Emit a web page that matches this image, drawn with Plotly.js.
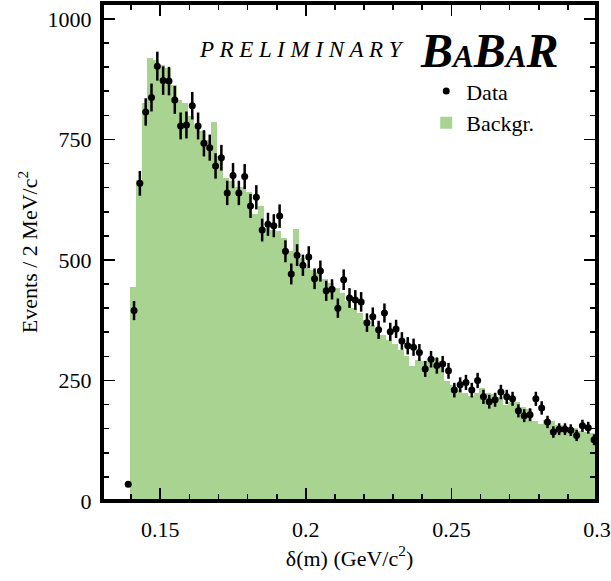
<!DOCTYPE html>
<html>
<head>
<meta charset="utf-8">
<script src="https://cdn.plot.ly/plotly-3.0.1.min.js"></script>
<style>html,body{margin:0;padding:0;background:#fff;}</style>
</head>
<body>
<div id="chart" style="width:611px;height:581px;"></div>
<script>
// Data: events per 2 MeV/c^2 bin, bin centres start at 0.139 GeV/c^2
var dataStart = 0.139;
var binWidth = 0.002;
var dataCounts = [
  35, 395, 659, 807, 837, 902, 872, 871, 832, 778,
  780, 820, 778, 742, 733, 695, 712, 639, 675, 639,
  673, 612, 630, 562, 574, 571, 591, 518, 471, 510,
  489, 506, 461, 477, 436, 439, 400, 459, 421, 417,
  413, 370, 382, 355, 390, 351, 357, 332, 322, 319,
  308, 274, 294, 281, 284, 270, 230, 241, 246, 230,
  250, 216, 206, 210, 226, 216, 212, 187, 177, 179,
  212, 193, 164, 143, 149, 149, 147, 136, 156, 152,
  127
];
// Background histogram, bin centres start at 0.1406 GeV/c^2
var bkgStart = 0.1406;
var bkgCounts = [
  444, 666, 826, 919, 915, 905, 898, 862, 832, 826,
  798, 777, 767, 749, 787, 715, 670, 663, 652, 652,
  640, 595, 611, 567, 563, 561, 545, 518, 564, 504,
  485, 480, 475, 460, 452, 442, 432, 415, 400, 390,
  375, 365, 355, 345, 335, 325, 313, 300, 280, 293,
  290, 297, 297, 290, 248, 240, 230, 225, 217, 225,
  235, 224, 222, 215, 200, 205, 205, 195, 190, 165,
  160, 168, 165, 158, 157, 154, 152, 146, 144, 142,
  140
];
var xRange = [0.13, 0.3];
var yRange = [0, 1033];
var xTickVals = [0.15, 0.2, 0.25, 0.3];
var xTickText = ['0.15', '0.2', '0.25', '0.3'];
var xMinorVals = [0.14, 0.16, 0.17, 0.18, 0.19, 0.21, 0.22, 0.23, 0.24, 0.26, 0.27, 0.28, 0.29];
var yTickVals = [0, 250, 500, 750, 1000];
var yTickText = ['0', '250', '500', '750', '1000'];
var yMinorVals = [50, 100, 150, 200, 300, 350, 400, 450, 550, 600, 650, 700, 800, 850, 900, 950];

var green = '#a8d391';
var serif = 'Liberation Serif, Times New Roman, serif';

// plot-area size in pixels, used to turn tick lengths (px) into axis units
var plotW = 611 - 102 - 14, plotH = 581 - 3 - 80;
var xPerPx = (xRange[1] - xRange[0]) / plotW;
var yPerPx = (yRange[1] - yRange[0]) / plotH;

// frame and tick marks built as thin filled bars from the tick arrays
function frameAndTicks(){
  var v = {x: [], y: [], base: [], width: []};
  var h = {x: [], y: [], base: [], width: []};
  function vbar(x, base, len, w){ v.x.push(x); v.y.push(len); v.base.push(base); v.width.push(w); }
  function hbar(y, base, len, w){ h.y.push(y); h.x.push(len); h.base.push(base); h.width.push(w); }
  function xt(val, px){
    vbar(val, yRange[0], px * yPerPx, 1.6 * xPerPx);
    vbar(val, yRange[1] - px * yPerPx, px * yPerPx, 1.6 * xPerPx);
  }
  function yt(val, px){
    hbar(val, xRange[0], px * xPerPx, 1.6 * yPerPx);
    hbar(val, xRange[1] - px * xPerPx, px * xPerPx, 1.6 * yPerPx);
  }
  xTickVals.forEach(function(t){ xt(t, 13); });
  xMinorVals.forEach(function(t){ xt(t, 7); });
  yTickVals.forEach(function(t){ yt(t, 13); });
  yMinorVals.forEach(function(t){ yt(t, 7); });
  // frame
  vbar(xRange[0] + xPerPx, yRange[0], yRange[1] - yRange[0], 2 * xPerPx);
  vbar(xRange[1] - xPerPx, yRange[0], yRange[1] - yRange[0], 2 * xPerPx);
  hbar(yRange[0] + yPerPx, xRange[0], xRange[1] - xRange[0], 2 * yPerPx);
  hbar(yRange[1] - yPerPx, xRange[0], xRange[1] - xRange[0], 2 * yPerPx);
  return {v: v, h: h};
}
var ft = frameAndTicks();

var bkg = {
  type: 'bar', name: 'Backgr.',
  x0: bkgStart, dx: binWidth, y: bkgCounts, width: binWidth,
  marker: {color: green, line: {width: 0}}
};
var data = {
  type: 'scatter', mode: 'markers', name: 'Data',
  x0: dataStart, dx: binWidth, y: dataCounts,
  marker: {color: 'black', size: 7},
  error_y: {type: 'sqrt', visible: true, thickness: 2.5, width: 0, color: 'black'}
};
var vTicks = {
  type: 'bar', orientation: 'v', x: ft.v.x, y: ft.v.y, base: ft.v.base, width: ft.v.width,
  marker: {color: 'black', line: {width: 0}}, showlegend: false, hoverinfo: 'skip'
};
var hTicks = {
  type: 'bar', orientation: 'h', x: ft.h.x, y: ft.h.y, base: ft.h.base, width: ft.h.width,
  marker: {color: 'black', line: {width: 0}}, showlegend: false, hoverinfo: 'skip'
};

var layout = {
  width: 611, height: 581,
  margin: {l: 102, r: 14, t: 3, b: 80},
  paper_bgcolor: 'white', plot_bgcolor: 'white',
  font: {family: serif, color: 'black', size: 22},
  barmode: 'overlay',
  bargap: 0,
  showlegend: true,
  legend: {
    x: 0.655, y: 0.865, xanchor: 'left', yanchor: 'top',
    bgcolor: 'rgba(0,0,0,0)', traceorder: 'reversed',
    font: {family: serif, size: 22}, tracegroupgap: 0
  },
  xaxis: {
    range: xRange, tickvals: xTickVals, ticktext: xTickText,
    ticks: 'inside', ticklen: 13, tickwidth: 1.5, tickcolor: 'black',
    showline: true, linewidth: 2, linecolor: 'black', mirror: 'ticks',
    showgrid: false, zeroline: false,
    ticklabelstandoff: 8,
    tickfont: {family: serif, size: 22},
    title: {text: 'δ(m) (GeV/c<sup>2</sup>)', font: {family: serif, size: 22}, standoff: 6}
  },
  yaxis: {
    range: yRange, tickvals: yTickVals, ticktext: yTickText,
    ticks: 'inside', ticklen: 13, tickwidth: 1.5, tickcolor: 'black',
    showline: true, linewidth: 2, linecolor: 'black', mirror: 'ticks',
    showgrid: false, zeroline: false,
    ticklabelstandoff: 4,
    tickfont: {family: serif, size: 22},
    title: {text: 'Events / 2 MeV/c<sup>2</sup>', font: {family: serif, size: 22}, standoff: 4}
  },
  annotations: [
    {xref: 'paper', yref: 'paper', x: 0.404, y: 0.907, xanchor: 'center', yanchor: 'middle', showarrow: false,
     text: '<i>P R E L I M I N A R Y</i>', font: {family: serif, size: 23}},
    {xref: 'paper', yref: 'paper', x: 0.782, y: 0.905, xanchor: 'center', yanchor: 'middle', showarrow: false,
     text: '<b><i>B<span style="font-size:31px">A</span>B<span style="font-size:31px">A</span>R</i></b>',
     font: {family: serif, size: 48}}
  ]
};

Plotly.newPlot('chart', [bkg, vTicks, hTicks, data], layout, {displayModeBar: false, staticPlot: true});
</script>
</body>
</html>
